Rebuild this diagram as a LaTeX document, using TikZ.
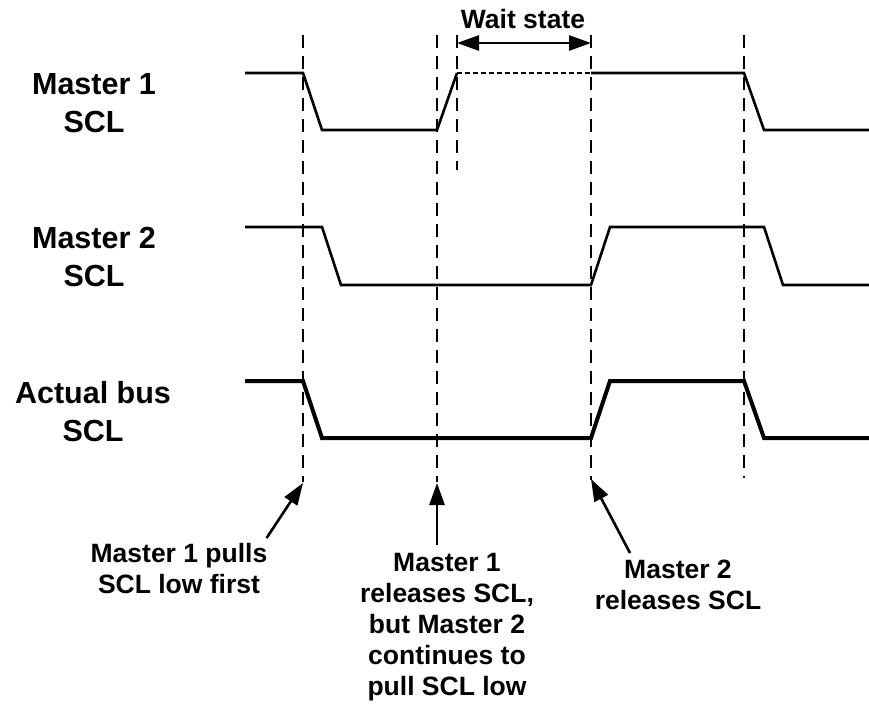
\documentclass[tikz,border=0pt]{standalone}
\usepackage{fontspec}
\setmainfont{Liberation Sans}
\usetikzlibrary{arrows.meta,positioning,calc}

\begin{document}
\begin{tikzpicture}[
        x=1pt,y=-1pt,
        siglabel/.style={font=\fontsize{30.5}{38}\selectfont\bfseries, align=center, inner sep=0pt, anchor=north},
        notelabel/.style={font=\fontsize{26.5}{31}\selectfont\bfseries, align=center, inner sep=0pt, anchor=north},
        sig/.style={line width=2.6pt, line join=miter},
        bus/.style={line width=4pt, line join=miter},
        guide/.style={line width=1.8pt, dash pattern=on 13pt off 8pt},
        ptr/.style={-{Triangle[length=22pt,width=15pt]}, line width=2.6pt},
        span/.style={{Triangle[length=22pt,width=15pt]}-{Triangle[length=22pt,width=15pt]}, line width=2.6pt}
    ]
    \useasboundingbox (0,0) rectangle (869,704);

    % signal names
    \node[siglabel] (m1) at (94,73) {Master 1\\SCL};
    \node[siglabel] (m2) at (94,227) {Master 2\\SCL};
    \node[siglabel] (bs) at (93,381) {Actual bus\\SCL};

    % guides
    \foreach \gx/\gb in {303/482, 437/482, 591/480, 744/478} {\draw[guide] (\gx,35) -- (\gx,\gb);}
    \draw[guide] (457,35) -- (457,170);

    % master 1
    \draw[sig] (245,73) -- (303,73) -- (322,130) -- (437,130) -- (457,73);
    \draw[line width=2pt, dash pattern=on 5pt off 3pt] (457,73) -- (591,73);
    \draw[sig] (591,73) -- (744,73) -- (764,130) -- (869,130);

    % master 2
    \draw[sig] (245,227) -- (322,227) -- (341,285) -- (591,285) -- (610,227) -- (764,227) -- (783,285) -- (869,285);

    % actual bus
    \draw[bus] (245,381) -- (303,381) -- (322,438) -- (591,438) -- (610,381) -- (744,381) -- (764,438) -- (869,438);

    % wait state
    \coordinate (ws1) at (457,43);
    \coordinate (ws2) at (591,43);
    \draw[span] (ws1) -- (ws2);
    \node[font=\fontsize{26.5}{31}\selectfont\bfseries, anchor=base, inner sep=0pt] (ws) at (523,28) {Wait state};

    % notes
    \coordinate (tpull) at (303,483);
    \coordinate (trel1) at (437,483);
    \coordinate (trel2) at (591,479);
    \node[notelabel] (pull) at (179,543) {Master 1 pulls\\SCL low first};
    \node[notelabel] (rel1) at (447,553) {Master 1\\releases SCL,\\but Master 2\\continues to\\pull SCL low};
    \node[notelabel] (rel2) at (678,560) {Master 2\\releases SCL};
    \draw[ptr] ([xshift=-1pt,yshift=5pt]pull.north east) -- (tpull);
    \draw[ptr] ([xshift=-10pt,yshift=8pt]rel1.north) -- (trel1);
    \draw[ptr] ([xshift=-48pt,yshift=7pt]rel2.north) -- (trel2);
\end{tikzpicture}
\end{document}
